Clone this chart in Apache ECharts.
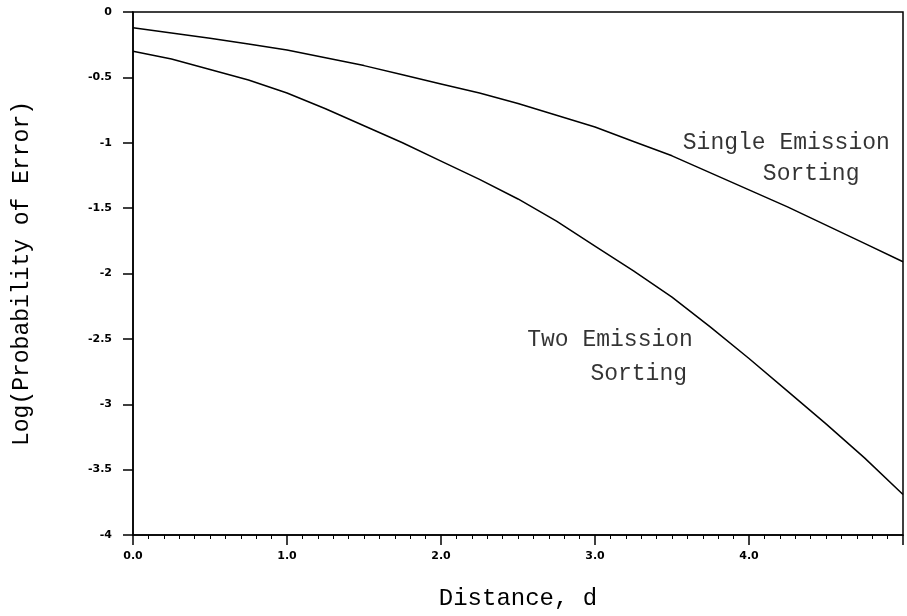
<!DOCTYPE html>
<html>
<head>
<meta charset="utf-8">
<script src="https://cdn.jsdelivr.net/npm/echarts@6/dist/echarts.min.js"></script>
<style>
  html, body { margin: 0; padding: 0; background: #fff; }
  #main { width: 907px; height: 616px; }
</style>
</head>
<body>
<div id="main"></div>
<script>
// distance d
var distance = [0, 0.25, 0.5, 0.75, 1.0, 1.25, 1.5, 1.75, 2.0, 2.25, 2.5,
                2.75, 3.0, 3.25, 3.5, 3.75, 4.0, 4.25, 4.5, 4.75, 5.0];
// log(probability of error)
var singleEmission = [-0.12, -0.16, -0.20, -0.245, -0.29, -0.35, -0.41, -0.48, -0.55, -0.62, -0.70,
                      -0.79, -0.88, -0.99, -1.10, -1.23, -1.36, -1.49, -1.63, -1.77, -1.91];
var twoEmission = [-0.30, -0.36, -0.44, -0.52, -0.62, -0.74, -0.87, -1.00, -1.14, -1.28, -1.43,
                   -1.60, -1.79, -1.98, -2.18, -2.41, -2.65, -2.90, -3.15, -3.41, -3.69];
// curve labels, anchored in data units (left edge, middle)
var notes = [
  ['Single Emission', 3.57, -1.0],
  ['Sorting', 4.09, -1.24],
  ['Two Emission', 2.56, -2.51],
  ['Sorting', 2.97, -2.77]
];

function pairs(xs, ys) {
  return xs.map(function (x, i) { return [x, ys[i]]; });
}

var monoFont = '"Liberation Mono", "DejaVu Sans Mono", monospace';
var tickFont = '"DejaVu Sans", sans-serif';

var chart = echarts.init(document.getElementById('main'));

var option = {
  backgroundColor: '#fff',
  animation: false,
  grid: {
    left: 133, right: 4, top: 12, bottom: 78,
    show: true, borderColor: '#000', borderWidth: 1.5
  },
  xAxis: {
    type: 'value',
    min: 0, max: 5, interval: 1,
    name: 'Distance, d',
    nameLocation: 'middle',
    nameGap: 52,
    nameTextStyle: { fontFamily: monoFont, fontSize: 24, color: '#000' },
    axisLine: { onZero: false, lineStyle: { color: '#000', width: 1.5 } },
    axisTick: { inside: false, length: 10, lineStyle: { color: '#000', width: 1.5 } },
    minorTick: { show: true, splitNumber: 10, length: 4, lineStyle: { color: '#000', width: 1 } },
    splitLine: { show: false },
    axisLabel: {
      margin: 16, showMaxLabel: false,
      fontFamily: tickFont, fontSize: 11, fontWeight: 'bold', color: '#000',
      formatter: function (v) { return v.toFixed(1); }
    }
  },
  yAxis: {
    type: 'value',
    min: -4, max: 0, interval: 0.5,
    name: 'Log(Probability of Error)',
    nameLocation: 'middle',
    nameGap: 100,
    nameTextStyle: { fontFamily: monoFont, fontSize: 23, color: '#000' },
    axisLine: { onZero: false, lineStyle: { color: '#000', width: 1.5 } },
    axisTick: { inside: false, length: 10, lineStyle: { color: '#000', width: 1.5 } },
    splitLine: { show: false },
    axisLabel: {
      margin: 21,
      fontFamily: tickFont, fontSize: 11, fontWeight: 'bold', color: '#000',
      formatter: function (v) { return v === 0 ? '0' : String(v); }
    }
  },
  series: [
    {
      name: 'Single Emission Sorting',
      type: 'line',
      data: pairs(distance, singleEmission),
      smooth: false,
      showSymbol: false,
      lineStyle: { color: '#000', width: 1.5 }
    },
    {
      name: 'Two Emission Sorting',
      type: 'line',
      data: pairs(distance, twoEmission),
      smooth: false,
      showSymbol: false,
      lineStyle: { color: '#000', width: 1.5 }
    },
    {
      name: 'notes',
      type: 'scatter',
      symbolSize: 0,
      silent: true,
      data: notes.map(function (n) { return { value: [n[1], n[2]], name: n[0] }; }),
      label: {
        show: true,
        position: 'right',
        distance: 0,
        formatter: '{b}',
        fontFamily: monoFont,
        fontSize: 23,
        color: '#000'
      }
    }
  ]
};

chart.setOption(option);
</script>
</body>
</html>
